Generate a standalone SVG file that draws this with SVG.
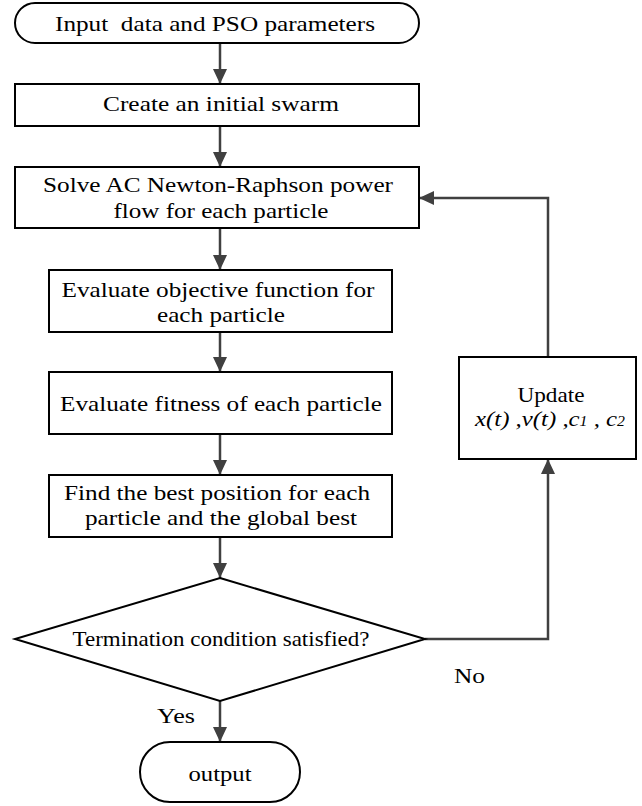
<svg xmlns="http://www.w3.org/2000/svg" width="642" height="806" viewBox="0 0 642 806">
<defs>
<marker id="arr" viewBox="0 0 15 14" refX="15" refY="7" markerWidth="15" markerHeight="14" markerUnits="userSpaceOnUse" orient="auto">
<path d="M0,0 L15,7 L0,14 z" fill="#404040"/>
</marker>
<style>
.n{fill:#fff;stroke:#000;stroke-width:2}
.t{font-family:'Liberation Serif','Times New Roman','DejaVu Serif',serif;font-size:22px;fill:#000;text-anchor:middle}
.l{font-family:'Liberation Serif','Times New Roman','DejaVu Serif',serif;font-size:22px;fill:#000}
.c{fill:none;stroke:#404040;stroke-width:2.5}
.i{font-style:italic}
</style>
</defs>
<rect width="642" height="806" fill="#fff"/>
<g id="connectors">
<line class="c" x1="220" y1="43" x2="220" y2="84" marker-end="url(#arr)"/>
<line class="c" x1="220" y1="126" x2="220" y2="167" marker-end="url(#arr)"/>
<line class="c" x1="220" y1="228" x2="220" y2="270" marker-end="url(#arr)"/>
<line class="c" x1="220" y1="332" x2="220" y2="372" marker-end="url(#arr)"/>
<line class="c" x1="220" y1="434" x2="220" y2="475" marker-end="url(#arr)"/>
<line class="c" x1="220" y1="537" x2="220" y2="578" marker-end="url(#arr)"/>
<line class="c" x1="220" y1="701" x2="220" y2="742" marker-end="url(#arr)"/>
<polyline class="c" points="425,639 548,639 548,459" marker-end="url(#arr)"/>
<polyline class="c" points="548,357 548,198 419,198" marker-end="url(#arr)"/>
<text class="l" x="157" y="723" textLength="38" lengthAdjust="spacingAndGlyphs">Yes</text>
<text class="l" x="454" y="683" textLength="31" lengthAdjust="spacingAndGlyphs">No</text>
</g>
<g id="start">
<rect class="n" x="15" y="3" width="404" height="40" rx="20"/>
<text class="t" x="215" y="31" xml:space="preserve" textLength="320" lengthAdjust="spacingAndGlyphs">Input  data and PSO parameters</text>
</g>
<g id="create">
<rect class="n" x="15" y="84" width="404" height="42"/>
<text class="t" x="221" y="111" textLength="236" lengthAdjust="spacingAndGlyphs">Create an initial swarm</text>
</g>
<g id="solve">
<rect class="n" x="15" y="167" width="404" height="61"/>
<text class="t" x="218" y="192" textLength="350" lengthAdjust="spacingAndGlyphs">Solve AC Newton-Raphson power</text>
<text class="t" x="221" y="218" textLength="215" lengthAdjust="spacingAndGlyphs">flow for each particle</text>
</g>
<g id="objective">
<rect class="n" x="49" y="270" width="343" height="62"/>
<text class="t" x="218" y="297" textLength="313" lengthAdjust="spacingAndGlyphs">Evaluate objective function for</text>
<text class="t" x="221" y="322" textLength="128" lengthAdjust="spacingAndGlyphs">each particle</text>
</g>
<g id="fitness">
<rect class="n" x="49" y="372" width="343" height="62"/>
<text class="t" x="221" y="411" textLength="322" lengthAdjust="spacingAndGlyphs">Evaluate fitness of each particle</text>
</g>
<g id="best">
<rect class="n" x="49" y="475" width="343" height="62"/>
<text class="t" x="217" y="500" textLength="306" lengthAdjust="spacingAndGlyphs">Find the best position for each</text>
<text class="t" x="221" y="525" textLength="272" lengthAdjust="spacingAndGlyphs">particle and the global best</text>
</g>
<g id="decision">
<polygon class="n" points="220,578 425,639 220,701 15,639"/>
<text class="t" x="221" y="646" textLength="297" lengthAdjust="spacingAndGlyphs">Termination condition satisfied?</text>
</g>
<g id="update">
<rect class="n" x="459" y="357" width="177" height="102"/>
<text class="t" x="551" y="402" textLength="67" lengthAdjust="spacingAndGlyphs">Update</text>
<text class="t i" x="550" y="426" textLength="150" lengthAdjust="spacingAndGlyphs">x(t) ,v(t) ,c<tspan font-size="14">1</tspan> , c<tspan font-size="14">2</tspan></text>
</g>
<g id="output">
<rect class="n" x="140" y="742" width="160" height="60" rx="30"/>
<text class="t" x="220" y="781" textLength="63" lengthAdjust="spacingAndGlyphs">output</text>
</g>
</svg>
